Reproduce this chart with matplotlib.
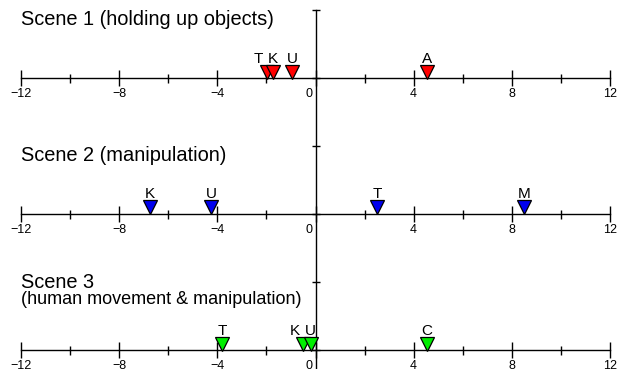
import matplotlib
matplotlib.use("Agg")
import matplotlib.pyplot as plt
import matplotlib.transforms as mtransforms
from matplotlib.ticker import MultipleLocator, FixedLocator

plt.rcParams['font.family'] = ['Liberation Sans', 'DejaVu Sans']

# ---- data ----
scene_titles = ["Scene 1 (holding up objects)", "Scene 2 (manipulation)", "Scene 3"]
scene_subtitles = [None, None, "(human movement & manipulation)"]
scene1_labels = ["T", "K", "U", "A"]
scene1_values = [-1.98, -1.75, -0.94, 4.56]
scene2_labels = ["K", "U", "T", "M"]
scene2_values = [-6.74, -4.24, 2.52, 8.51]
scene3_labels = ["T", "K", "U", "C"]
scene3_values = [-3.79, -0.52, -0.2, 4.55]
scene_colors = ["#ff0000", "#0000ee", "#00ee00"]
x_major_ticks = [-12, -8, -4, 0, 4, 8, 12]

scene_labels = [scene1_labels, scene2_labels, scene3_labels]
scene_values = [scene1_values, scene2_values, scene3_values]

# label nudges (pixels) to avoid overlap
label_nudge = {(0, 0): -8.5, (2, 1): -8.0}

W, H = 625, 369
fig = plt.figure(figsize=(W / 100, H / 100), dpi=100)
PX = 72 / 100  # points per pixel

x_left, x_right = 21, 610
baselines = [78, 213.5, 350]
title_baselines = [25, 161, 288]
subtitle_baseline = 303.5

# vertical axis overlay
vax = fig.add_axes([x_left / W, 0, (x_right - x_left) / W, (H - 10) / H])
vax.set_xlim(-12, 12)
vax.set_ylim(-(H - 10) / 68, 0)
vax.patch.set_alpha(0)
for s in ["top", "right", "bottom"]:
    vax.spines[s].set_visible(False)
vax.spines["left"].set_position(("data", 0))
vax.spines["left"].set_linewidth(1.0)
vax.set_xticks([])
vax.yaxis.set_major_locator(MultipleLocator(1))
vax.tick_params(axis="y", direction="inout", length=8 * PX, width=1.0, labelleft=False)

for i in range(3):
    b = baselines[i]
    ax = fig.add_axes([x_left / W, (H - b) / H, (x_right - x_left) / W, 60 / H])
    ax.patch.set_alpha(0)
    ax.set_xlim(-12, 12)
    ax.set_ylim(0, 60)
    for s in ["top", "right", "left"]:
        ax.spines[s].set_visible(False)
    ax.spines["bottom"].set_linewidth(1.0)
    ax.set_yticks([])
    ax.xaxis.set_major_locator(FixedLocator(x_major_ticks))
    ax.xaxis.set_minor_locator(MultipleLocator(2))
    ax.set_xticklabels([("0" if t == 0 else "\u2212%d" % -t if t < 0 else "%d" % t)
                        for t in x_major_ticks])
    ax.tick_params(axis="x", which="major", direction="inout", length=16 * PX,
                   width=1.0, labelsize=9, pad=1.5)
    ax.tick_params(axis="x", which="minor", direction="inout", length=9 * PX, width=1.0)
    # shift the "0" label left
    for lab, t in zip(ax.get_xticklabels(), x_major_ticks):
        if t == 0:
            lab.set_transform(lab.get_transform() +
                              mtransforms.ScaledTranslation(-6.5 / 100, 0, fig.dpi_scale_trans))

    vals = scene_values[i]
    labs = scene_labels[i]
    for j, (v, l) in enumerate(zip(vals, labs)):
        ax.plot([v], [6.5], marker="v", ms=13.5 * PX, mfc=scene_colors[i], mec="black",
                mew=0.9, ls="none", clip_on=False, zorder=5 + j)
        dx = label_nudge.get((i, j), 0)
        ax.annotate(l, xy=(v, 0), xytext=(dx * PX, 15.3 * PX), textcoords="offset points",
                    ha="center", va="baseline", fontsize=11, annotation_clip=False)

    fig.text(x_left / W, 1 - title_baselines[i] / H, scene_titles[i], fontsize=14.4,
             ha="left", va="baseline")
    if scene_subtitles[i]:
        fig.text(x_left / W, 1 - subtitle_baseline / H, scene_subtitles[i], fontsize=13,
                 ha="left", va="baseline")

fig.savefig("out.png", dpi=100)
